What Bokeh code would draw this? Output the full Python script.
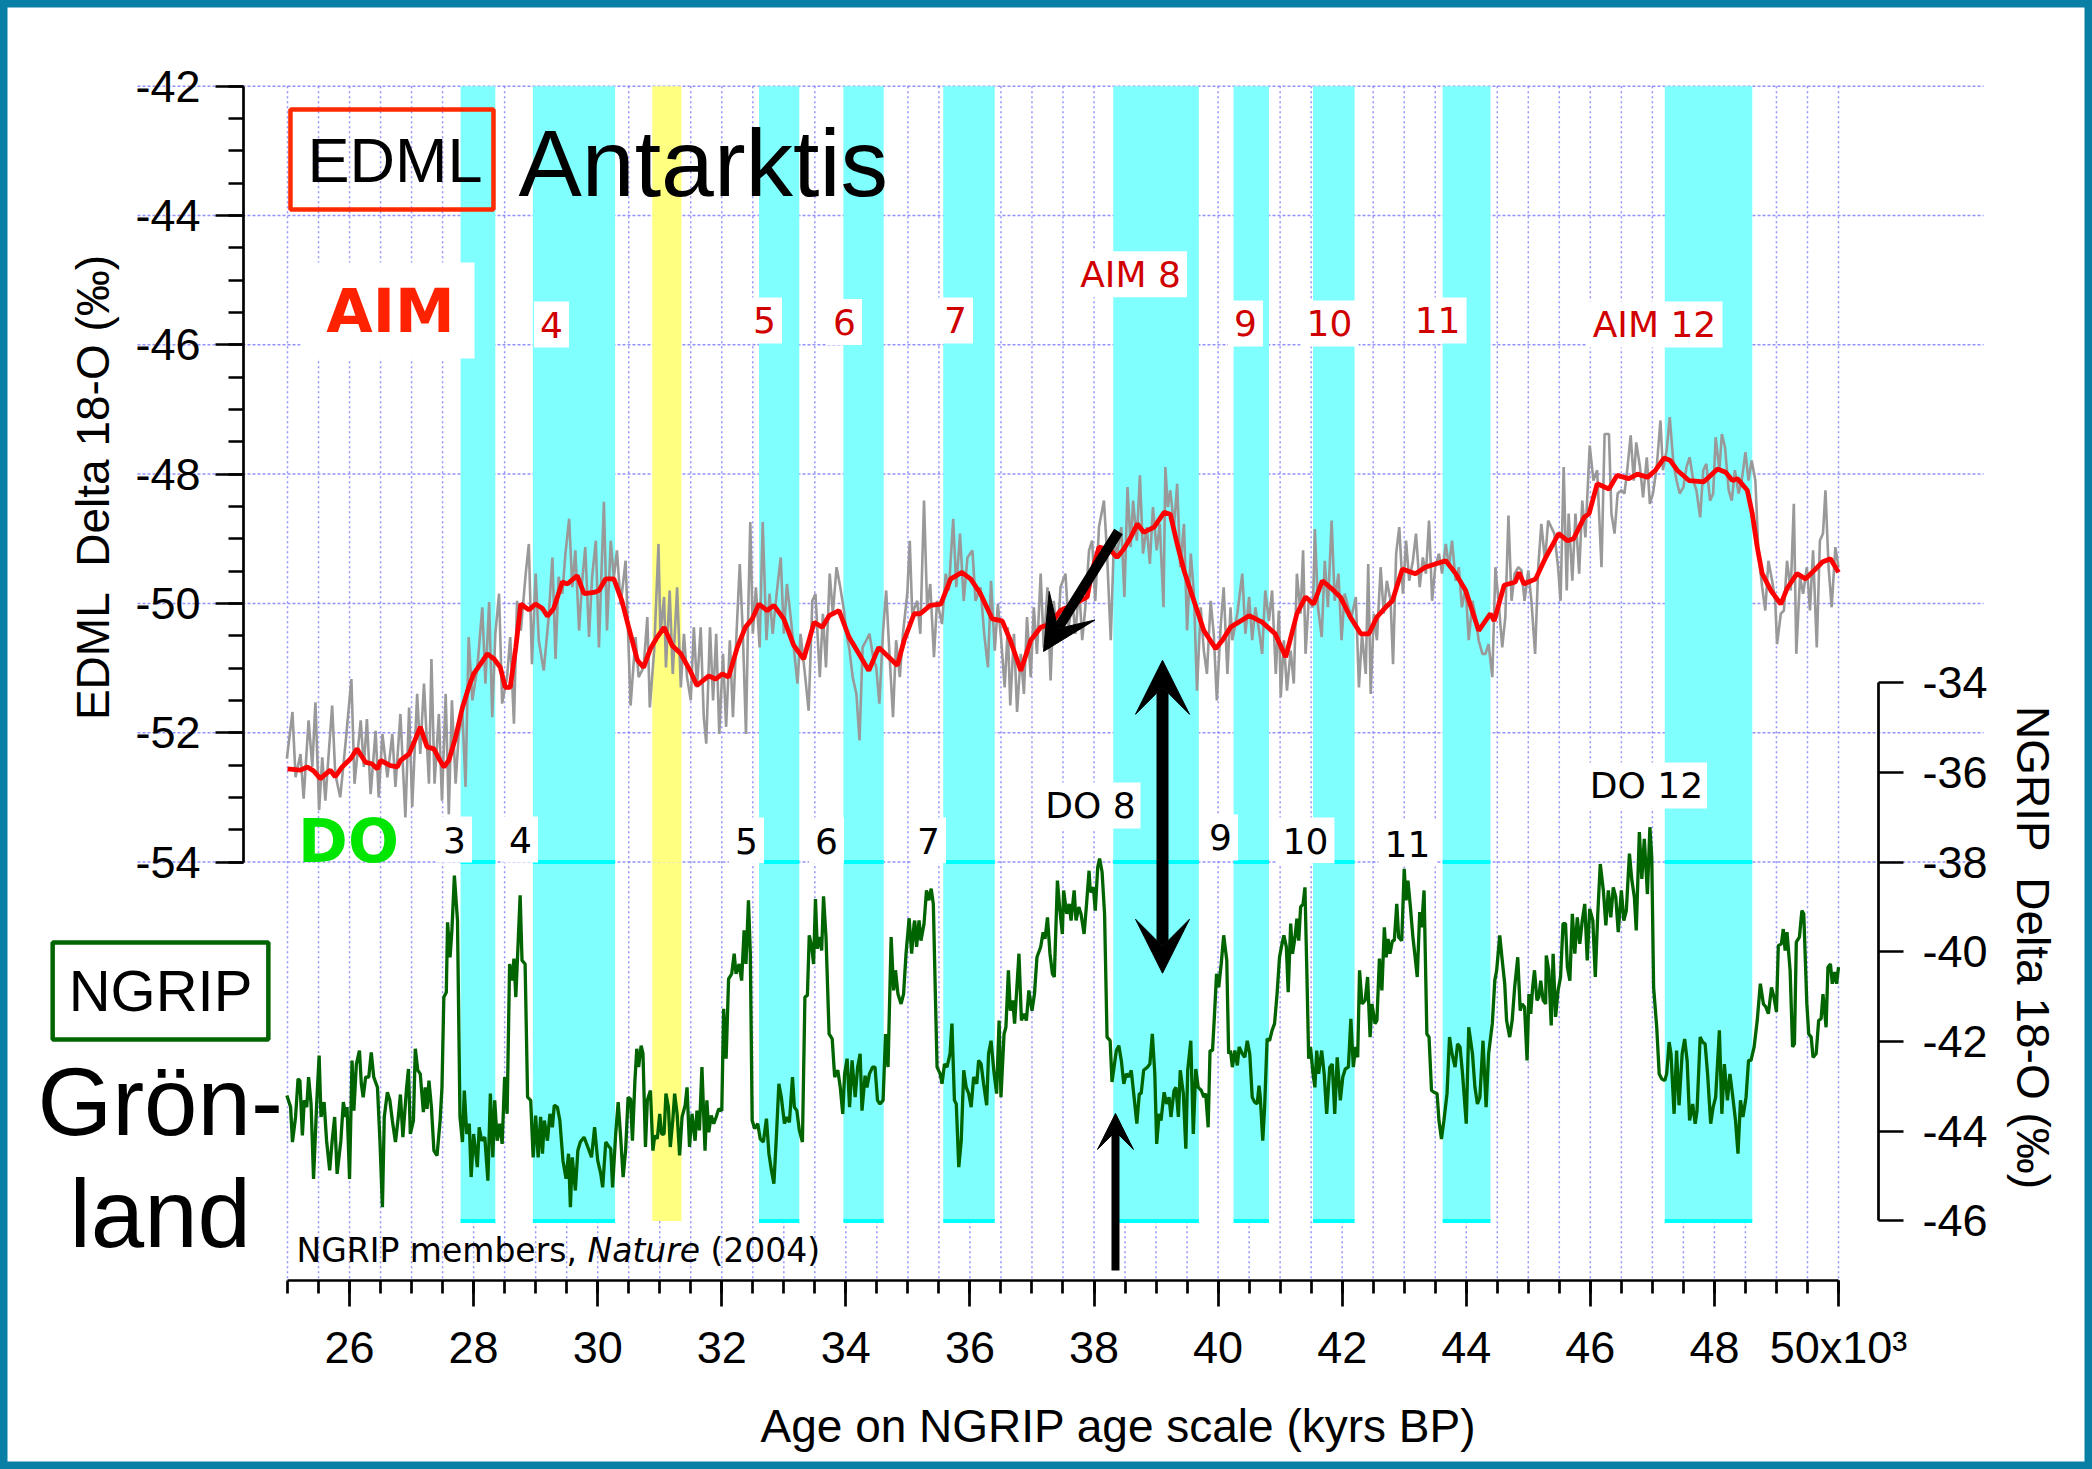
import math
from bokeh.plotting import figure
from bokeh.models import Range1d, LinearAxis, FixedTicker, Label, Arrow, VeeHead
from bokeh.core.properties import value
from bokeh.embed import file_html
from bokeh.resources import INLINE

# ---------------- data ----------------
edml_smooth_age = [
    25.00, 25.21, 25.32, 25.42, 25.53, 25.69, 25.77, 25.88, 26.02, 26.12, 26.26, 26.36, 26.45, 26.50, 26.66, 26.77,
    26.82, 26.96, 27.04, 27.14, 27.25, 27.36, 27.44, 27.52, 27.60, 27.71, 27.82, 27.92, 28.00, 28.11, 28.22, 28.33,
    28.43, 28.51, 28.59, 28.68, 28.76, 28.89, 29.00, 29.11, 29.19, 29.29, 29.43, 29.51, 29.67, 29.78, 29.94, 30.02,
    30.13, 30.26, 30.39, 30.50, 30.64, 30.74, 30.85, 30.96, 31.07, 31.20, 31.34, 31.50, 31.60, 31.79, 31.90, 32.01,
    32.11, 32.25, 32.38, 32.49, 32.60, 32.73, 32.84, 33.00, 33.16, 33.32, 33.49, 33.62, 33.73, 33.89, 34.05, 34.21,
    34.37, 34.53, 34.69, 34.83, 34.94, 35.10,
    35.20, 35.36, 35.53, 35.69, 35.87, 36.01, 36.17, 36.36, 36.52, 36.65, 36.82, 36.98, 37.14, 37.30, 37.46, 37.68,
    37.89, 37.97, 38.08, 38.27, 38.37, 38.48, 38.59, 38.70, 38.80, 38.97, 39.13, 39.23, 39.34, 39.45, 39.61, 39.77,
    39.96, 40.07, 40.20,
    40.28, 40.50, 40.71, 40.92, 41.09, 41.27, 41.41, 41.54, 41.68, 41.84, 41.97, 42.13, 42.30, 42.43, 42.56, 42.70,
    42.81, 42.97, 43.18, 43.34, 43.50, 43.67, 43.83, 43.99, 44.20, 44.39, 44.45, 44.61, 44.79, 44.85, 44.93, 45.12,
    45.28,
    45.49, 45.63, 45.73, 45.90, 45.98, 46.11, 46.30, 46.43, 46.62, 46.76, 46.92, 47.05, 47.19, 47.29, 47.40, 47.59,
    47.83, 48.05, 48.18, 48.29, 48.37, 48.53, 48.61, 48.69, 48.77, 48.91, 49.07, 49.17, 49.33, 49.47, 49.63, 49.74,
    49.87, 50.00]
edml_smooth_d18o = [
    -52.56, -52.58, -52.53, -52.59, -52.71, -52.58, -52.68, -52.53, -52.40, -52.25, -52.46, -52.48, -52.56, -52.43, -52.51, -52.53,
    -52.43, -52.33, -52.15, -51.91, -52.22, -52.25, -52.40, -52.53, -52.43, -52.07, -51.61, -51.30, -51.09, -50.94, -50.78, -50.86,
    -50.99, -51.30, -51.30, -50.68, -50.01, -50.10, -50.01, -50.08, -50.20, -50.08, -49.67, -49.70, -49.57, -49.85, -49.83, -49.80,
    -49.62, -49.62, -49.96, -50.37, -50.88, -50.99, -50.70, -50.52, -50.37, -50.65, -50.78, -51.06, -51.27, -51.12, -51.17, -51.09,
    -51.14, -50.68, -50.37, -50.24, -50.01, -50.11, -50.03, -50.24, -50.65, -50.86, -50.29, -50.37, -50.19, -50.11, -50.52, -50.78,
    -51.04, -50.68, -50.83, -50.96, -50.57, -50.16,
    -50.16, -50.03, -50.01, -49.62, -49.52, -49.62, -49.85, -50.24, -50.27, -50.57, -51.04, -50.57, -50.37, -50.32, -50.11, -50.01,
    -49.90, -49.49, -49.13, -49.18, -49.29, -49.16, -48.98, -48.77, -48.90, -48.82, -48.59, -48.62, -49.08, -49.49, -49.96, -50.42,
    -50.70, -50.57, -50.37,
    -50.32, -50.19, -50.29, -50.47, -50.83, -50.16, -49.90, -50.01, -49.65, -49.78, -49.90, -50.21, -50.47, -50.47, -50.21, -50.06,
    -49.96, -49.47, -49.54, -49.44, -49.39, -49.34, -49.54, -49.80, -50.42, -50.16, -50.27, -49.72, -49.67, -49.52, -49.70, -49.62,
    -49.29,
    -48.92, -49.03, -49.00, -48.67, -48.61, -48.15, -48.23, -48.02, -48.07, -48.00, -48.05, -47.94, -47.75, -47.79, -47.94, -48.10,
    -48.12, -47.92, -47.97, -48.10, -48.07, -48.25, -48.61, -49.13, -49.54, -49.80, -50.01, -49.77, -49.54, -49.62, -49.47, -49.36,
    -49.31, -49.52]

edml_raw_age = [
    24.99, 25.08, 25.13, 25.21, 25.26, 25.34, 25.40, 25.45, 25.51, 25.56, 25.61, 25.72, 25.77, 25.85, 25.93, 26.03,
    26.08, 26.18, 26.23, 26.28, 26.34, 26.42, 26.47, 26.53, 26.61, 26.69, 26.74, 26.82, 26.90, 26.96, 27.01, 27.09,
    27.14, 27.20, 27.28, 27.32, 27.37, 27.44, 27.49, 27.55, 27.60, 27.65, 27.71, 27.76, 27.82, 27.87, 27.92, 27.98,
    28.06, 28.14, 28.19, 28.25, 28.30, 28.35, 28.41, 28.46, 28.54, 28.59, 28.65, 28.70, 28.76, 28.84, 28.89, 28.94,
    29.00, 29.05, 29.13, 29.21, 29.27, 29.32, 29.37, 29.43, 29.48, 29.54, 29.59, 29.64, 29.70, 29.75, 29.80, 29.86,
    29.91, 29.97, 30.02,
    30.10, 30.15, 30.21, 30.26, 30.31, 30.37, 30.45, 30.53, 30.61, 30.66, 30.74, 30.80, 30.84, 30.91, 30.98, 31.01,
    31.07, 31.10, 31.16, 31.21, 31.28, 31.34, 31.39, 31.44, 31.50, 31.55, 31.60, 31.66, 31.71, 31.75, 31.81, 31.86,
    31.91, 31.96, 32.02, 32.07, 32.13, 32.18, 32.23, 32.29, 32.34, 32.39, 32.43, 32.46, 32.50, 32.55, 32.61, 32.66,
    32.72, 32.77, 32.82, 32.89, 32.95, 33.00, 33.05, 33.11, 33.16, 33.22, 33.27, 33.34, 33.40, 33.46, 33.51, 33.58,
    33.63, 33.68, 33.74, 33.79, 33.85, 33.91, 33.97, 34.01, 34.06, 34.11, 34.17, 34.22, 34.27, 34.33, 34.38, 34.44,
    34.49, 34.54, 34.60, 34.65, 34.70, 34.76, 34.81, 34.87, 34.92, 34.99, 35.03, 35.07,
    35.15, 35.20, 35.26, 35.31, 35.36, 35.42, 35.47, 35.55, 35.61, 35.66, 35.73, 35.78, 35.84, 35.90, 35.96, 36.04,
    36.09, 36.17, 36.23, 36.29, 36.34, 36.40, 36.45, 36.50, 36.56, 36.61, 36.65, 36.71, 36.76, 36.82, 36.87, 36.92,
    36.98, 37.03, 37.08, 37.14, 37.19, 37.25, 37.30, 37.35, 37.41, 37.46, 37.54, 37.59, 37.65, 37.70, 37.76, 37.81,
    37.86, 37.92, 37.97, 38.02, 38.08, 38.16, 38.21, 38.27, 38.32, 38.37, 38.44, 38.49, 38.54, 38.59, 38.63, 38.69,
    38.74, 38.79, 38.85, 38.90, 38.95, 39.01, 39.06, 39.12, 39.15, 39.19, 39.23, 39.29, 39.34, 39.39, 39.45, 39.50,
    39.56, 39.61, 39.66, 39.72, 39.77, 39.82, 39.88, 39.93, 39.98, 40.04, 40.09, 40.15, 40.20,
    40.23, 40.31, 40.39, 40.44, 40.50, 40.55, 40.60, 40.66, 40.71, 40.76, 40.82, 40.87, 40.93, 40.98, 41.01, 41.06,
    41.11, 41.17, 41.22, 41.27, 41.33, 41.37, 41.41, 41.46, 41.53, 41.56, 41.61, 41.67, 41.72, 41.77, 41.83, 41.88,
    41.94, 41.99, 42.04, 42.10, 42.15, 42.22, 42.27, 42.32, 42.38, 42.42, 42.46, 42.51, 42.56, 42.62, 42.67, 42.72,
    42.78, 42.82, 42.87, 42.92, 42.98, 43.03, 43.08, 43.14, 43.19, 43.25, 43.30, 43.35, 43.40, 43.45, 43.50, 43.56,
    43.61, 43.67, 43.72, 43.77, 43.83, 43.88, 43.93, 43.99, 44.04, 44.10, 44.15, 44.20, 44.26, 44.31, 44.36, 44.42,
    44.47, 44.52, 44.58, 44.63, 44.68, 44.73, 44.78, 44.84, 44.89, 44.94, 45.00, 45.05, 45.11, 45.16, 45.21, 45.27,
    45.32, 45.37, 45.42, 45.48, 45.52, 45.57, 45.62, 45.65, 45.71, 45.76, 45.82, 45.87, 45.92, 45.99, 46.05, 46.11,
    46.18, 46.23, 46.30, 46.34, 46.39, 46.44, 46.50, 46.55, 46.60, 46.65, 46.70, 46.74, 46.80, 46.85, 46.91, 46.96,
    47.01, 47.07, 47.13, 47.17, 47.23, 47.28, 47.34, 47.39, 47.44, 47.50, 47.55, 47.60, 47.66, 47.71, 47.77, 47.82,
    47.87, 47.93, 47.98, 48.02, 48.08, 48.12, 48.17, 48.23, 48.28, 48.33, 48.39, 48.44, 48.50, 48.55, 48.60, 48.66,
    48.71, 48.77, 48.82, 48.87, 48.93, 48.98, 49.01, 49.07, 49.12, 49.17, 49.23, 49.28, 49.32, 49.38, 49.43, 49.49,
    49.54, 49.59, 49.65, 49.70, 49.75, 49.79, 49.84, 49.89, 49.95, 50.00]
edml_raw_d18o = [
    -52.40, -51.68, -52.69, -52.33, -53.02, -51.81, -52.53, -51.53, -53.20, -52.38, -53.05, -51.58, -52.64, -53.00, -52.22, -51.17,
    -52.79, -51.81, -52.53, -51.79, -52.95, -51.97, -53.00, -52.02, -52.69, -52.02, -52.84, -51.71, -53.31, -51.61, -53.15, -51.40,
    -52.33, -51.24, -52.79, -50.86, -52.79, -51.71, -53.05, -51.40, -53.26, -51.50, -52.79, -52.02, -51.71, -52.84, -50.52, -51.50,
    -50.99, -50.06, -51.24, -49.98, -51.76, -50.47, -49.85, -51.55, -51.14, -50.52, -51.86, -49.96, -50.42, -49.54, -49.08, -50.94,
    -49.54, -50.57, -51.04, -50.21, -49.29, -50.86, -49.59, -49.85, -49.23, -48.69, -49.75, -49.18, -50.42, -49.65, -49.13, -50.52,
    -49.59, -49.03, -50.68,
    -48.43, -50.42, -49.03, -49.60, -49.18, -50.01, -49.34, -51.58, -50.52, -51.14, -50.99, -50.21, -51.61, -50.73, -49.08, -50.47,
    -49.90, -50.99, -49.80, -51.09, -49.75, -51.30, -50.47, -51.14, -51.50, -50.37, -51.30, -50.37, -51.76, -52.17, -50.37, -51.50,
    -50.47, -52.02, -50.78, -51.91, -50.57, -51.76, -50.63, -49.39, -50.47, -52.02, -49.96, -48.74, -50.47, -49.75, -50.68, -48.74,
    -50.57, -49.85, -50.47, -49.80, -49.29, -50.47, -49.70, -50.21, -50.68, -51.24, -50.47, -51.09, -51.66, -49.96, -49.85, -51.14,
    -50.16, -50.99, -49.54, -50.16, -49.44, -49.75, -50.11, -50.47, -50.73, -51.14, -51.40, -52.12, -50.68, -50.57, -50.47, -50.83,
    -50.99, -51.55, -50.42, -49.80, -50.73, -51.76, -50.57, -51.14, -50.47, -49.85, -49.03, -50.16,
    -49.96, -50.47, -48.41, -50.06, -49.70, -50.83, -49.96, -50.32, -49.54, -49.80, -48.69, -49.75, -48.92, -49.96, -49.29, -49.18,
    -49.96, -49.75, -50.47, -50.99, -49.65, -50.73, -50.01, -50.52, -51.30, -50.37, -51.58, -50.47, -51.68, -50.78, -51.40, -50.21,
    -51.14, -50.06, -50.78, -49.54, -50.68, -49.75, -51.19, -49.96, -50.57, -49.75, -49.54, -50.37, -49.96, -50.47, -49.75, -50.57,
    -50.06, -49.18, -49.03, -49.96, -48.82, -48.41, -49.23, -50.57, -49.03, -49.23, -48.82, -49.90, -48.20, -49.13, -48.41, -49.03,
    -48.02, -49.23, -48.82, -49.39, -48.51, -49.18, -48.77, -50.06, -47.89, -48.51, -48.25, -48.82, -48.15, -49.44, -48.77, -50.42,
    -49.23, -49.85, -51.35, -50.06, -50.73, -51.09, -49.96, -50.47, -51.50, -50.37, -49.75, -51.09, -50.06,
    -50.57, -50.16, -49.54, -50.47, -49.90, -50.57, -50.06, -50.42, -50.78, -49.80, -50.27, -49.80, -51.09, -50.11, -51.45, -50.57,
    -51.35, -50.73, -51.24, -49.54, -50.16, -49.18, -50.78, -49.96, -50.06, -48.85, -50.06, -50.52, -49.34, -50.06, -48.72, -49.96,
    -49.54, -50.57, -49.85, -50.06, -50.21, -49.90, -51.30, -50.47, -51.09, -49.39, -51.40, -50.16, -50.57, -49.44, -50.16, -49.65,
    -49.96, -50.94, -49.23, -48.82, -49.85, -49.03, -49.65, -49.34, -48.92, -49.75, -49.29, -49.54, -48.72, -49.96, -49.44, -49.23,
    -49.54, -49.08, -49.44, -49.03, -49.65, -49.44, -50.06, -49.75, -50.57, -49.96, -50.21, -50.57, -50.78, -50.78, -50.63, -51.14,
    -49.44, -49.96, -50.68, -50.21, -48.64, -49.96, -49.54, -49.44, -49.49, -49.96, -49.49, -49.96, -50.78, -49.44, -48.77, -49.34,
    -48.72, -48.82, -48.92, -49.44, -49.96, -47.89, -49.80, -48.61, -49.65, -48.61, -49.54, -48.41, -48.98, -47.56, -48.10, -47.94,
    -49.44, -47.38, -47.38, -48.61, -48.92, -48.30, -48.25, -48.30, -47.89, -47.40, -48.10, -47.51, -47.89, -48.36, -47.74, -48.46,
    -48.30, -47.89, -47.17, -47.94, -47.63, -47.12, -47.84, -48.10, -48.30, -48.20, -47.89, -47.74, -48.10, -48.25, -48.67, -47.94,
    -47.84, -48.41, -48.30, -47.43, -47.94, -47.38, -47.58, -48.25, -48.41, -47.94, -48.30, -48.10, -47.66, -48.10, -47.79, -48.10,
    -49.23, -49.75, -50.11, -49.34, -49.65, -49.96, -50.63, -50.16, -50.11, -49.34, -49.80, -48.46, -50.78, -49.59, -49.85, -49.44,
    -50.11, -49.18, -50.68, -49.03, -48.92, -48.25, -49.44, -50.06, -49.13, -49.44]

ngrip_age = [
    24.99, 25.05, 25.08, 25.13, 25.17, 25.20, 25.24, 25.27, 25.31, 25.34, 25.38, 25.42, 25.47, 25.51, 25.54, 25.59,
    25.63, 25.68, 25.72, 25.76, 25.80, 25.86, 25.90, 25.94, 25.96, 26.00, 26.04, 26.07, 26.11, 26.16, 26.19, 26.22,
    26.26, 26.31, 26.35, 26.39, 26.45, 26.49, 26.53, 26.56, 26.61, 26.65, 26.69, 26.74, 26.78, 26.82, 26.86, 26.92,
    26.95, 26.98, 27.03, 27.06, 27.10, 27.14, 27.19, 27.22, 27.25, 27.28, 27.32, 27.36, 27.41, 27.46, 27.49, 27.52,
    27.56, 27.58, 27.62, 27.65, 27.69, 27.74, 27.78, 27.82, 27.85, 27.89, 27.93, 27.96, 28.00, 28.06, 28.09, 28.13,
    28.18, 28.23, 28.27, 28.31, 28.34, 28.38, 28.42, 28.46, 28.50, 28.54, 28.58, 28.62, 28.65, 28.68, 28.71, 28.75,
    28.78, 28.83, 28.87, 28.92, 28.96, 29.00, 29.04, 29.08, 29.11, 29.14, 29.19, 29.23, 29.27, 29.30, 29.35, 29.39,
    29.44, 29.49, 29.53, 29.56, 29.59, 29.64, 29.68, 29.72, 29.78, 29.84, 29.90, 29.95, 30.00, 30.05,
    30.08, 30.13, 30.17, 30.21, 30.24, 30.29, 30.33, 30.37, 30.41, 30.45, 30.49, 30.53, 30.56, 30.60, 30.63, 30.66,
    30.70, 30.73, 30.77, 30.80, 30.85, 30.89, 30.92, 30.96, 31.00, 31.03, 31.07, 31.10, 31.14, 31.17, 31.21, 31.24,
    31.28, 31.32, 31.36, 31.41, 31.44, 31.48, 31.52, 31.57, 31.60, 31.64, 31.68, 31.73, 31.76, 31.79, 31.83, 31.87,
    31.91, 31.95, 32.00, 32.03, 32.07, 32.11, 32.16, 32.20, 32.23, 32.28, 32.32, 32.36, 32.39, 32.43, 32.46, 32.49,
    32.53, 32.58, 32.62, 32.67, 32.72, 32.76, 32.80, 32.84, 32.88, 32.92, 32.96, 33.01, 33.05, 33.09, 33.14, 33.17,
    33.21, 33.25, 33.30, 33.34, 33.38, 33.41, 33.45, 33.48, 33.51, 33.54, 33.58, 33.61, 33.64, 33.68, 33.73, 33.78,
    33.82, 33.87, 33.91, 33.95, 33.98, 34.02, 34.06, 34.10, 34.15, 34.19, 34.23, 34.26, 34.31, 34.34, 34.38, 34.43,
    34.47, 34.51, 34.55, 34.60, 34.64, 34.68, 34.73, 34.77, 34.80, 34.84, 34.89, 34.93, 34.97, 35.02, 35.06, 35.10,
    35.11, 35.14, 35.18, 35.21, 35.26, 35.30, 35.34, 35.375, 35.41, 35.44, 35.47, 35.52, 35.55, 35.59, 35.63, 35.68,
    35.71, 35.75, 35.78, 35.82, 35.86, 35.90, 35.94, 35.98, 36.02, 36.06, 36.11, 36.14, 36.18, 36.22, 36.27, 36.30,
    36.34, 36.39, 36.43, 36.47, 36.50, 36.55, 36.58, 36.62, 36.65, 36.69, 36.72, 36.75, 36.79, 36.83, 36.87, 36.91,
    36.95, 37.00, 37.04, 37.08, 37.14, 37.18, 37.21, 37.25, 37.29, 37.33, 37.36, 37.41, 37.45, 37.49, 37.51, 37.56,
    37.60, 37.63, 37.68, 37.71, 37.755, 37.79, 37.84, 37.88, 37.92, 37.94, 37.99, 38.02, 38.06, 38.09, 38.13, 38.17,
    38.21, 38.26, 38.29, 38.33, 38.36, 38.40, 38.44, 38.48, 38.52, 38.56, 38.60, 38.64, 38.69, 38.73, 38.76, 38.80,
    38.86, 38.90, 38.94, 38.98, 39.01, 39.05, 39.08, 39.13, 39.17, 39.21, 39.24, 39.29, 39.32, 39.36, 39.39, 39.44,
    39.48, 39.51, 39.56, 39.60, 39.64, 39.68, 39.73, 39.77, 39.80, 39.84, 39.87, 39.91, 39.94, 39.975, 40.01, 40.05,
    40.09, 40.14, 40.17, 40.20,
    40.23, 40.27, 40.31, 40.34, 40.39, 40.43, 40.47, 40.51, 40.55, 40.59, 40.63, 40.66, 40.68, 40.72, 40.75, 40.79,
    40.83, 40.87, 40.91, 40.95, 40.99, 41.03, 41.06, 41.10, 41.13, 41.17, 41.20, 41.24, 41.27, 41.30, 41.33, 41.37,
    41.40, 41.43, 41.46, 41.49, 41.53, 41.56, 41.59, 41.62, 41.67, 41.71, 41.75, 41.80, 41.84, 41.88, 41.92, 41.97,
    42.01, 42.05, 42.10, 42.14, 42.18, 42.215, 42.25, 42.28, 42.32, 42.37, 42.41, 42.45, 42.48, 42.53, 42.56, 42.60,
    42.64, 42.68, 42.71, 42.74, 42.77, 42.81, 42.84, 42.88, 42.91, 42.96, 43.00, 43.03, 43.06, 43.10, 43.14, 43.17,
    43.21, 43.25, 43.28, 43.32, 43.365, 43.40, 43.44, 43.48, 43.53, 43.56, 43.60, 43.64, 43.69, 43.73, 43.77, 43.82,
    43.86, 43.90, 43.94, 44.00, 44.04, 44.10, 44.14, 44.18, 44.22, 44.27, 44.32, 44.36, 44.42, 44.46, 44.49, 44.54,
    44.58, 44.62, 44.65, 44.70, 44.74, 44.78, 44.83, 44.87, 44.90, 44.94, 44.98, 45.01, 45.04, 45.07, 45.10, 45.14,
    45.17, 45.20, 45.24, 45.28,
    45.29, 45.33, 45.37, 45.40, 45.44, 45.48, 45.52, 45.56, 45.60, 45.63, 45.67, 45.71, 45.75, 45.79, 45.83, 45.87,
    45.91, 45.95, 45.99, 46.04, 46.08, 46.12, 46.16, 46.21, 46.25, 46.29, 46.33, 46.37, 46.41, 46.45, 46.50, 46.54,
    46.58, 46.63, 46.67, 46.71, 46.74, 46.79, 46.83, 46.87, 46.92, 46.96, 46.99, 47.02, 47.07, 47.11, 47.15, 47.20,
    47.23, 47.27, 47.30, 47.35, 47.39, 47.43, 47.48, 47.52, 47.56, 47.60, 47.65, 47.69, 47.72, 47.77, 47.81, 47.85,
    47.89, 47.94, 47.98, 48.02, 48.08, 48.12, 48.16, 48.21, 48.25, 48.29, 48.34, 48.38, 48.42, 48.46, 48.51, 48.55,
    48.59, 48.64, 48.69, 48.74, 48.79, 48.83, 48.87, 48.92, 48.96, 49.00, 49.03, 49.08, 49.11, 49.14, 49.17, 49.22,
    49.26, 49.29, 49.32, 49.37, 49.41, 49.44, 49.49, 49.52, 49.56, 49.59, 49.64, 49.68, 49.72, 49.75, 49.80, 49.83,
    49.87, 49.90, 49.94, 49.97, 50.00]
ngrip_d18o = [
    -43.20, -43.46, -44.24, -43.68, -42.83, -42.87, -44.09, -43.31, -43.46, -42.79, -43.39, -45.06, -43.39, -42.31, -43.68, -43.35,
    -44.21, -44.87, -44.21, -43.68, -44.95, -44.21, -43.35, -43.68, -43.46, -45.06, -42.42, -43.54, -42.50, -42.20, -42.94, -43.24,
    -42.79, -42.79, -42.24, -42.79, -43.02, -44.21, -45.69, -43.68, -43.13, -43.31, -43.76, -44.24, -43.76, -43.18, -44.13, -43.02,
    -42.61, -44.06, -43.76, -42.16, -42.64, -42.72, -43.57, -43.02, -43.50, -42.87, -43.46, -44.43, -44.54, -43.76, -43.02, -41.01,
    -40.90, -39.34, -40.12, -39.52, -38.30, -39.30, -43.68, -44.24, -43.09, -44.06, -43.83, -45.02, -44.06, -44.80, -43.91, -44.21,
    -44.13, -45.10, -43.16, -44.58, -43.31, -44.21, -43.83, -44.28, -42.79, -43.61, -40.27, -40.64, -40.15, -41.01, -40.04, -38.74,
    -40.19, -40.27, -43.24, -43.31, -44.58, -43.65, -44.58, -43.68, -44.50, -43.76, -44.21, -43.61, -43.91, -43.42, -43.46, -43.76,
    -44.65, -45.06, -44.50, -45.69, -44.58, -45.32, -44.43, -44.24, -44.13, -44.35, -44.58, -43.91, -44.65, -44.95,
    -45.25, -44.24, -44.32, -44.39, -45.25, -44.06, -43.35, -44.13, -45.02, -44.43, -43.24, -43.28, -44.21, -42.87, -42.16, -42.57,
    -42.09, -42.27, -44.35, -43.31, -43.09, -44.43, -44.09, -44.17, -43.61, -44.06, -44.06, -43.16, -43.46, -44.35, -43.76, -43.16,
    -43.61, -44.54, -43.68, -43.42, -43.02, -44.35, -43.61, -44.21, -43.54, -43.98, -42.57, -44.43, -43.31, -44.02, -43.65, -43.83,
    -43.68, -43.50, -43.54, -41.27, -42.38, -40.60, -40.49, -40.04, -40.49, -40.27, -40.64, -39.52, -40.27, -38.85, -40.04, -43.76,
    -43.94, -43.83, -44.17, -44.24, -43.72, -44.50, -44.87, -45.17, -44.13, -42.94, -43.24, -43.83, -43.68, -43.80, -42.79, -43.46,
    -43.54, -43.98, -44.24, -41.01, -40.97, -39.63, -39.89, -40.27, -38.82, -39.93, -39.67, -39.97, -38.76, -39.67, -41.83, -41.94,
    -42.79, -42.64, -43.02, -43.61, -42.72, -42.38, -43.46, -42.42, -43.24, -42.57, -42.27, -43.54, -42.76, -43.02, -42.72, -42.57,
    -42.57, -43.31, -43.39, -43.31, -41.83, -42.57, -39.67, -40.86, -40.41, -40.94, -41.16, -40.94, -40.04, -39.25, -40.04, -39.37,
    -39.30, -39.89, -39.30, -39.75, -39.37, -38.63, -38.85, -38.59, -38.93, -40.79, -42.57, -42.72, -42.94, -42.50, -42.57, -42.27,
    -41.60, -43.31, -43.39, -44.80, -44.21, -42.64, -43.02, -43.16, -43.46, -42.79, -42.94, -42.42, -42.50, -42.94, -43.42, -42.27,
    -41.98, -42.72, -43.16, -41.53, -43.24, -41.83, -41.68, -40.41, -41.31, -41.08, -41.60, -40.94, -40.04, -41.53, -41.38, -41.53,
    -40.86, -41.31, -40.94, -40.12, -39.89, -39.56, -39.71, -39.23, -40.04, -40.49, -40.56, -38.41, -39.08, -39.60, -38.63, -39.15,
    -38.93, -39.30, -38.63, -39.30, -39.00, -39.15, -39.60, -38.93, -38.19, -38.67, -38.56, -39.08, -38.11, -37.92, -38.22, -39.15,
    -41.90, -41.98, -42.90, -42.50, -42.20, -42.09, -42.42, -42.94, -42.72, -42.79, -42.64, -43.16, -43.83, -43.16, -43.16, -42.64,
    -42.57, -42.50, -41.83, -42.72, -44.28, -43.61, -43.76, -43.13, -43.39, -43.24, -43.68, -43.09, -43.02, -43.68, -42.64, -43.16,
    -44.39, -42.64, -41.98, -44.06, -42.61, -43.02, -43.09, -43.24, -43.16, -43.91, -42.20, -42.20, -41.45, -40.49, -40.79, -40.27,
    -39.63, -40.19, -42.27, -42.20,
    -42.57, -42.20, -42.53, -42.12, -42.27, -42.35, -41.98, -42.27, -43.24, -43.35, -43.39, -42.98, -43.24, -44.21, -43.46, -41.94,
    -41.98, -41.75, -41.60, -40.94, -40.12, -39.82, -39.63, -39.89, -40.90, -39.37, -40.04, -39.67, -39.26, -39.75, -39.00, -38.93,
    -38.56, -40.41, -42.38, -42.12, -42.72, -43.02, -42.20, -42.72, -42.20, -42.72, -43.61, -42.57, -42.50, -43.61, -42.35, -43.31,
    -42.79, -42.61, -42.57, -41.49, -42.57, -42.12, -42.35, -40.41, -41.16, -41.08, -40.56, -41.90, -41.16, -41.60, -41.53, -40.15,
    -40.86, -39.45, -40.12, -39.71, -40.04, -39.75, -39.75, -38.93, -39.67, -39.75, -38.15, -38.85, -38.41, -39.00, -39.67, -40.04,
    -40.56, -39.11, -39.45, -38.63, -41.83, -41.90, -43.09, -43.13, -43.16, -43.76, -44.17, -43.76, -43.16, -41.90, -42.27, -42.57,
    -42.05, -42.12, -42.72, -43.83, -41.68, -42.27, -43.02, -43.39, -43.24, -41.98, -43.46, -42.27, -41.60, -40.64, -40.41, -39.63,
    -40.19, -40.71, -41.53, -41.90, -41.53, -40.79, -40.12, -41.31, -41.16, -41.23, -42.42, -40.94, -41.38, -40.79, -40.41, -41.08,
    -41.01, -40.64, -41.08, -41.16,
    -40.08, -40.41, -41.64, -40.04, -41.45, -40.86, -40.56, -39.37, -39.37, -40.34, -40.64, -39.15, -40.04, -39.23, -39.82, -39.30,
    -38.93, -40.19, -39.04, -39.30, -40.56, -39.15, -38.04, -38.63, -39.41, -38.63, -39.23, -38.56, -38.78, -39.56, -38.63, -39.30,
    -39.08, -37.81, -38.41, -38.78, -39.52, -37.33, -38.37, -37.48, -38.71, -37.22, -37.89, -40.79, -41.68, -42.72, -42.83, -42.87,
    -42.72, -42.01, -42.27, -43.61, -42.20, -43.42, -42.27, -41.94, -42.42, -43.76, -43.39, -43.83, -43.54, -41.90, -42.01, -42.05,
    -42.72, -43.83, -43.46, -43.24, -41.75, -43.61, -42.50, -43.31, -42.72, -43.16, -43.76, -44.50, -43.31, -43.68, -43.24, -42.42,
    -42.42, -42.12, -41.53, -40.71, -41.16, -41.23, -41.38, -40.79, -41.01, -41.34, -39.86, -39.82, -39.49, -39.97, -39.56, -40.41,
    -42.12, -42.05, -39.78, -39.67, -39.08, -39.15, -41.16, -41.83, -41.90, -42.35, -42.27, -41.53, -41.49, -40.94, -41.68, -40.34,
    -40.27, -40.71, -40.45, -40.71, -40.34]

# stadial (cold) bands and the yellow band, in kyr BP
stadial_start = [27.79, 28.955, 32.60, 33.96, 35.57, 38.31, 40.25, 41.53, 43.62, 47.20]
stadial_end = [28.35, 30.28, 33.25, 34.61, 36.40, 39.69, 40.82, 42.20, 44.39, 48.61]
yellow_start = [30.88]
yellow_end = [31.35]

# tick values and labels
edml_ticks = [-54, -52, -50, -48, -46, -44, -42]
edml_minor = [-54 + 0.5 * i for i in range(25)]
ngrip_ticks = [-46, -44, -42, -40, -38, -36, -34]
age_ticks = [26, 28, 30, 32, 34, 36, 38, 40, 42, 44, 46, 48, 50]
age_minor = [25 + 0.5 * i for i in range(51)]
age_tick_labels = {t: str(t) for t in age_ticks}
age_tick_labels[50] = "50x10\u00b3"
edml_tick_labels = {t: "-%d" % abs(t) for t in edml_ticks}
ngrip_tick_labels = {t: "-%d" % abs(t) for t in ngrip_ticks}

# event labels
aim_labels = ["4", "5", "6", "7", "AIM 8", "9", "10", "11", "AIM 12"]
aim_label_age = [29.255, 32.689, 33.978, 35.767, 38.588, 40.442, 41.796, 43.537, 47.034]
do_labels = ["3", "4", "5", "6", "7", "DO 8", "9", "10", "11", "DO 12"]
do_label_age = [27.692, 28.756, 32.398, 33.688, 35.332, 37.943, 40.039, 41.408, 43.053, 46.905]

# ---------------- layout of annotations (positions in plot coords) ----------------
aim_label_y = [-45.686, -45.624, -45.649, -45.624, -44.907, -45.670, -45.670, -45.624, -45.686]
aim_box_w = [35, 35, 35, 35, 113, 35, 58, 58, 136]
do_label_y = [-53.652, -53.652, -53.668, -53.668, -53.668, -53.127, -53.621, -53.668, -53.714, -52.817]
do_box_w = [35, 35, 35, 35, 35, 100, 35, 58, 58, 121]

AGE_AXIS_Y = -60.473      # where the age axis sits (in EDML units)
EDML_AXIS_X = 24.2908     # where the EDML axis sits (in kyr)
NGRIP_AXIS_X = 50.6448    # where the NGRIP axis sits (in kyr)
HGRID_X0, HGRID_X1 = 22.582, 52.337

def n2(a, b):
    n = min(len(a), len(b))
    return a[:n], b[:n]

W, H = 2092, 1469
p = figure(width=W, height=H, output_backend="svg", toolbar_location=None, title=None,
           x_axis_location=None, y_axis_location=None,
           x_range=Range1d(20.3740, 54.0942), y_range=Range1d(-63.3967, -40.6744))
p.min_border = 0
p.min_border_left = 0
p.min_border_right = 0
p.min_border_top = 0
p.min_border_bottom = 0
p.extra_y_ranges = {"ngrip": Range1d(-51.5407, -18.7871)}
p.background_fill_color = "white"
p.border_fill_color = "white"
p.outline_line_color = "#0a7fa6"
p.outline_line_width = 14
p.xgrid.visible = False
p.ygrid.visible = False

FONT = "Liberation Sans"

def style_axis(ax, tick_out, minor_out, standoff):
    ax.axis_line_width = 2.7
    ax.major_tick_line_width = 2.7
    ax.minor_tick_line_width = 2.7
    ax.major_tick_in = 0
    ax.minor_tick_in = 0
    ax.major_tick_out = tick_out
    ax.minor_tick_out = minor_out
    ax.major_label_text_font = FONT
    ax.major_label_text_font_size = "45px"
    ax.major_label_text_color = "black"
    ax.major_label_standoff = standoff
    ax.axis_label = None

# grid lines (dotted), drawn first
p.segment(x0=age_minor, x1=age_minor, y0=[-42] * len(age_minor), y1=[AGE_AXIS_Y] * len(age_minor),
          line_color="#7f7fff", line_width=1.5, line_alpha=0.85, line_dash="2 3")
p.segment(x0=[HGRID_X0] * len(edml_ticks), x1=[HGRID_X1] * len(edml_ticks), y0=edml_ticks, y1=edml_ticks,
          line_color="#7f7fff", line_width=1.5, line_alpha=0.85, line_dash="3 2")

# bands
p.quad(left=stadial_start, right=stadial_end, top=-42, bottom=-54, fill_color="#80ffff", line_color=None)
p.quad(left=stadial_start, right=stadial_end, top=-38, bottom=-46, fill_color="#80ffff", line_color=None,
       y_range_name="ngrip")
p.quad(left=yellow_start, right=yellow_end, top=-42, bottom=-54, fill_color="#ffff80", line_color=None)
p.quad(left=yellow_start, right=yellow_end, top=-38, bottom=-46, fill_color="#ffff80", line_color=None,
       y_range_name="ngrip")
p.segment(x0=stadial_start, x1=stadial_end, y0=-54, y1=-54, line_color="#00ffff", line_width=4)
p.segment(x0=stadial_start, x1=stadial_end, y0=-46, y1=-46, line_color="#00ffff", line_width=4,
          y_range_name="ngrip")

# axes at fixed places
xax = LinearAxis(fixed_location=AGE_AXIS_Y, ticker=FixedTicker(ticks=age_ticks, minor_ticks=age_minor),
                 bounds=(25, 50))
xax.major_label_overrides = age_tick_labels
style_axis(xax, 26, 13, 16)
p.add_layout(xax, "below")

lax = LinearAxis(fixed_location=EDML_AXIS_X, ticker=FixedTicker(ticks=edml_ticks, minor_ticks=edml_minor),
                 bounds=(-54, -42))
lax.major_label_overrides = edml_tick_labels
style_axis(lax, 28, 15, 15)
p.add_layout(lax, "left")

rax = LinearAxis(fixed_location=NGRIP_AXIS_X, y_range_name="ngrip",
                 ticker=FixedTicker(ticks=ngrip_ticks, minor_ticks=[]), bounds=(-46, -34))
rax.major_label_overrides = ngrip_tick_labels
style_axis(rax, 25, 0, 19)
p.add_layout(rax, "right")

# label background boxes
p.rect(x=aim_label_age, y=aim_label_y, width=aim_box_w, height=[46] * len(aim_box_w),
       width_units="screen", height_units="screen", fill_color="white", line_color=None)
p.rect(x=do_label_age, y=do_label_y, width=do_box_w, height=[46] * len(do_box_w),
       width_units="screen", height_units="screen", fill_color="white", line_color=None)
p.rect(x=[26.612], y=[-45.471], width=[174], height=[96], width_units="screen", height_units="screen",
       fill_color="white", line_color=None)

# labels
p.text(x=aim_label_age, y=aim_label_y, text=aim_labels, text_font=value("DejaVu Sans"),
       text_font_size="36px", text_color="#d00000", text_align="center", text_baseline="middle")
p.text(x=do_label_age, y=do_label_y, text=do_labels, text_font=value("DejaVu Sans"),
       text_font_size="36px", text_color="black", text_align="center", text_baseline="middle")
p.text(x=[26.660], y=[-45.471], text=["AIM"], text_font=value("DejaVu Sans"), text_font_style="bold",
       text_font_size="60px", text_color="#ff2200", text_align="center", text_baseline="middle")
p.text(x=[25.983], y=[-53.675], text=["DO"], text_font=value("DejaVu Sans"), text_font_style="bold",
       text_font_size="60px", text_color="#00e600", text_align="center", text_baseline="middle")
p.text(x=[28.723], y=[-43.188], text=["Antarktis"], text_font=value(FONT), text_font_size="95px",
       text_color="black", text_align="left", text_baseline="middle")
p.text(x=[25.322], y=[-43.149], text=["EDML"], text_font=value(FONT), text_font_size="63px",
       text_color="black", text_align="left", text_baseline="middle")
p.rect(x=[26.684], y=[-43.134], width=[203], height=[100], width_units="screen", height_units="screen",
       fill_color=None, line_color="#ff2a00", line_width=4.5)
p.text(x=[25.145, 25.145, 25.145], y=[-60.009] * 3, text=["NGRIP members,", "Nature", "(2004)"],
       x_offset=[0, 291, 414], text_font=value("DejaVu Sans"), text_font_size="33px",
       text_font_style=["normal", "italic", "normal"], text_color="black",
       text_align="left", text_baseline="middle")

# data lines
ex, ey = n2(edml_raw_age, edml_raw_d18o)
p.line(ex, ey, line_color="#999999", line_width=2.6)
sx, sy = n2(edml_smooth_age, edml_smooth_d18o)
p.line(sx, sy, line_color="#ff0000", line_width=4.8)
gx, gy = n2(ngrip_age, ngrip_d18o)
p.line(gx, gy, line_color="#006400", line_width=3.3, y_range_name="ngrip")

# arrows
p.add_layout(Arrow(end=VeeHead(size=54, fill_color="black", line_color="black"),
                   x_start=38.394, y_start=-48.888, x_end=37.186, y_end=-50.744,
                   line_width=10, line_color="black"))
p.add_layout(Arrow(start=VeeHead(size=54, fill_color="black", line_color="black"),
                   end=VeeHead(size=54, fill_color="black", line_color="black"),
                   x_start=39.104, y_start=-50.88, x_end=39.104, y_end=-55.72,
                   line_width=12, line_color="black"))
p.add_layout(Arrow(end=VeeHead(size=36, fill_color="black", line_color="black"),
                   x_start=38.346, y_start=-60.32, x_end=38.346, y_end=-57.89,
                   line_width=8, line_color="black"))

# texts left of the axes and axis titles
p.add_layout(Label(x=22.953, y=-55.995, text="NGRIP", text_font=FONT, text_font_size="58px",
                   text_color="black", text_align="center", text_baseline="middle",
                   border_line_color="#006400", border_line_width=4.5, padding=16))
p.add_layout(Label(x=20.970, y=-57.705, text="Gr\u00f6n-", text_font=FONT, text_font_size="96px",
                   text_color="black", text_align="left", text_baseline="middle"))
p.add_layout(Label(x=21.486, y=-59.437, text="land", text_font=FONT, text_font_size="96px",
                   text_color="black", text_align="left", text_baseline="middle"))
p.add_layout(Label(x=21.873, y=-48.207, text="EDML\u00a0\u00a0Delta 18-O (\u2030)", text_font=FONT,
                   text_font_size="46px", text_color="black", text_align="center", text_baseline="middle",
                   angle=math.pi / 2))
p.add_layout(Label(x=53.143, y=-55.323, text="NGRIP\u00a0\u00a0Delta 18-O (\u2030)", text_font=FONT,
                   text_font_size="46px", text_color="black", text_align="center", text_baseline="middle",
                   angle=-math.pi / 2))
p.add_layout(Label(x=38.394, y=-62.717, text="Age on NGRIP age scale (kyrs BP)", text_font=FONT,
                   text_font_size="46px", text_color="black", text_align="center", text_baseline="middle"))

open("out.html", "w").write(file_html(p, INLINE))
